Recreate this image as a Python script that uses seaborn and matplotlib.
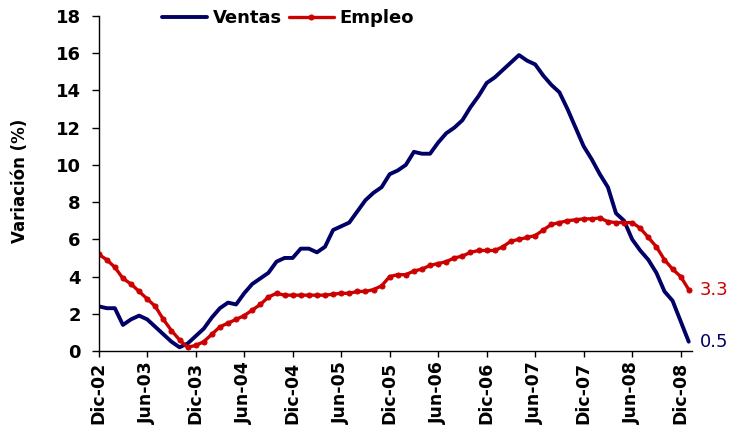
import matplotlib
matplotlib.use("Agg")
import matplotlib.pyplot as plt
import seaborn as sns
import pandas as pd
import numpy as np

# ---- data (monthly, Dic-02 .. Ene-09) ----
ventas = [2.4, 2.3, 2.3, 1.4, 1.7, 1.9, 1.7, 1.3, 0.9, 0.5,
          0.2, 0.4, 0.8, 1.2, 1.8, 2.3, 2.6, 2.5, 3.1, 3.6,
          3.9, 4.2, 4.8, 5.0, 5.0, 5.5, 5.5, 5.3, 5.6, 6.5,
          6.7, 6.9, 7.5, 8.1, 8.5, 8.8, 9.5, 9.7, 10.0, 10.7,
          10.6, 10.6, 11.2, 11.7, 12.0, 12.4, 13.1, 13.7, 14.4, 14.7,
          15.1, 15.5, 15.9, 15.6, 15.4, 14.8, 14.3, 13.9, 13.0, 12.0,
          11.0, 10.3, 9.5, 8.8, 7.4, 7.0, 6.0, 5.4, 4.9, 4.2,
          3.2, 2.7, 1.6, 0.5]
empleo = [5.2, 4.9, 4.5, 3.9, 3.6, 3.2, 2.8, 2.4, 1.7, 1.1,
          0.6, 0.2, 0.3, 0.5, 0.9, 1.3, 1.5, 1.7, 1.9, 2.2,
          2.5, 2.9, 3.1, 3.0, 3.0, 3.0, 3.0, 3.0, 3.0, 3.05,
          3.1, 3.1, 3.2, 3.2, 3.3, 3.5, 4.0, 4.1, 4.1, 4.3,
          4.4, 4.6, 4.7, 4.8, 5.0, 5.1, 5.3, 5.4, 5.4, 5.4,
          5.6, 5.9, 6.0, 6.1, 6.2, 6.5, 6.8, 6.9, 7.0, 7.05,
          7.1, 7.1, 7.15, 6.95, 6.9, 6.9, 6.9, 6.6, 6.1, 5.6,
          4.9, 4.4, 4.0, 3.3]
tick_labels = ["Dic-02", "Jun-03", "Dic-03", "Jun-04", "Dic-04", "Jun-05",
               "Dic-05", "Jun-06", "Dic-06", "Jun-07", "Dic-07", "Jun-08", "Dic-08"]
y_ticks = [0, 2, 4, 6, 8, 10, 12, 14, 16, 18]
end_labels = ["3.3", "0.5"]

NAVY = "#000066"
RED = "#CC0000"

sns.set_style("white")
plt.rcParams["font.family"] = ["DejaVu Sans"]
plt.rcParams["text.color"] = "black"
plt.rcParams["axes.labelcolor"] = "black"
plt.rcParams["xtick.color"] = "black"
plt.rcParams["ytick.color"] = "black"

months = np.arange(len(ventas))
df = pd.DataFrame({"mes": months, "Ventas": ventas, "Empleo": empleo})

fig = plt.figure(figsize=(7.31, 4.32), dpi=100)
ax = fig.add_axes([0.135, 0.1875, 0.8116, 0.7755])

sns.lineplot(data=df, x="mes", y="Ventas", ax=ax, color=NAVY, linewidth=2.8,
             label="Ventas")
sns.lineplot(data=df, x="mes", y="Empleo", ax=ax, color=RED, linewidth=2.4,
             marker="o", markersize=3.6, markeredgecolor=RED, label="Empleo")

ax.set_xlim(0, 73.4)
ax.set_ylim(0, 18)
ax.set_yticks(y_ticks)
ax.set_yticklabels([str(t) for t in y_ticks], fontsize=13, fontweight="bold",
                   color="black")
ax.set_xticks(np.arange(0, 73, 6))
ax.set_xticklabels(tick_labels, rotation=90, fontsize=12.5, fontweight="bold",
                   va="top", color="black")
ax.tick_params(axis="y", direction="out", length=5, width=1, pad=8, left=True,
               colors="black")
ax.tick_params(axis="x", direction="out", length=4.5, width=1, pad=3, bottom=True,
               colors="black")
ax.set_xlabel("")
ax.set_ylabel("")
for s in ["top", "right"]:
    ax.spines[s].set_visible(False)
for s in ["left", "bottom"]:
    ax.spines[s].set_color("black")
    ax.spines[s].set_linewidth(1)

fig.text(20 / 731, 1 - 181 / 432, "Variación (%)", rotation=90, ha="center",
         va="center", fontsize=12, fontweight="bold", color="black")

ax.annotate(end_labels[0], xy=(months[-1], empleo[-1]), xytext=(11, 0),
            textcoords="offset pixels", color=RED, fontsize=13, va="center",
            ha="left")
ax.annotate(end_labels[1], xy=(months[-1], ventas[-1]), xytext=(11, 0),
            textcoords="offset pixels", color=NAVY, fontsize=13, va="center",
            ha="left")

leg = ax.legend(loc="center", bbox_to_anchor=(288 / 731, 1 - 18 / 432),
                bbox_transform=fig.transFigure, ncol=2, frameon=False,
                handlelength=2.5, handletextpad=0.3, columnspacing=0.4,
                prop={"size": 13, "weight": "bold"}, borderaxespad=0)
for t in leg.get_texts():
    t.set_color("black")

fig.savefig("out.png", dpi=100)
